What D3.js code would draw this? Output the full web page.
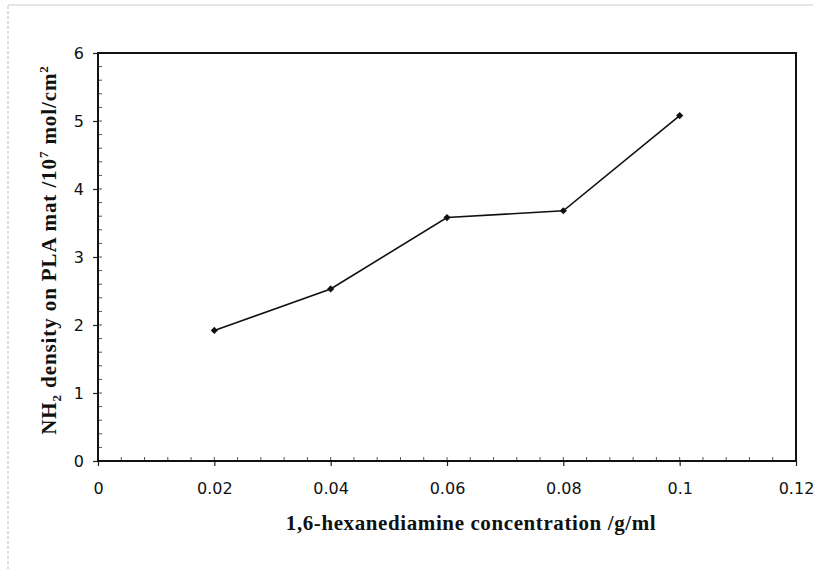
<!DOCTYPE html>
<html>
<head>
<meta charset="utf-8">
<script src="https://cdn.jsdelivr.net/npm/d3@7"></script>
<style>
  body { margin: 0; background: #fff; }
  svg { display: block; }
</style>
</head>
<body>
<div id="chart"></div>
<script>
// data
var concentrations = [0.02, 0.04, 0.06, 0.08, 0.1];
var densities = [1.92, 2.53, 3.58, 3.68, 5.08];
var xTicks = [0, 0.02, 0.04, 0.06, 0.08, 0.1, 0.12];
var yTicks = [0, 1, 2, 3, 4, 5, 6];

var width = 813, height = 569;
var plotL = 98, plotR = 796, plotT = 53, plotB = 461;

var svg = d3.select('#chart').append('svg')
    .attr('width', width)
    .attr('height', height);

// faint scan edges
svg.append('line')
    .attr('x1', 8).attr('x2', 8).attr('y1', 6).attr('y2', height)
    .attr('stroke', '#bbb').attr('stroke-width', 1).attr('stroke-dasharray', '3,2');
svg.append('line')
    .attr('x1', 8).attr('x2', width).attr('y1', 5).attr('y2', 5)
    .attr('stroke', '#ccc').attr('stroke-width', 1);

var x = d3.scaleLinear().domain([0, 0.12]).range([plotL, plotR]);
var y = d3.scaleLinear().domain([0, 6]).range([plotB, plotT]);

// minor ticks (inside)
var xMinor = d3.range(0, 0.1201, 0.004);
svg.append('g').selectAll('line')
    .data(xMinor)
    .enter().append('line')
    .attr('x1', function(d) { return x(d); })
    .attr('x2', function(d) { return x(d); })
    .attr('y1', plotB)
    .attr('y2', plotB - 4)
    .attr('stroke', '#555').attr('stroke-width', 1);

var yMinor = d3.range(0, 6.001, 0.2);
svg.append('g').selectAll('line')
    .data(yMinor)
    .enter().append('line')
    .attr('x1', plotL)
    .attr('x2', plotL + 4)
    .attr('y1', function(d) { return y(d); })
    .attr('y2', function(d) { return y(d); })
    .attr('stroke', '#555').attr('stroke-width', 1);

// axes
var xAxis = d3.axisBottom(x).tickValues(xTicks).tickSize(5).tickPadding(17)
    .tickFormat(function(d) { return String(+d.toFixed(2)); });
var yAxis = d3.axisLeft(y).tickValues(yTicks).tickSize(5).tickPadding(9)
    .tickFormat(d3.format('d'));

var gx = svg.append('g')
    .attr('transform', 'translate(0,' + plotB + ')')
    .call(xAxis);
var gy = svg.append('g')
    .attr('transform', 'translate(' + plotL + ',0)')
    .call(yAxis);

[gx, gy].forEach(function(g) {
    g.select('.domain').remove();
    g.selectAll('.tick line').attr('stroke', '#222').attr('stroke-width', 1.2);
    g.selectAll('.tick text')
        .attr('fill', '#111')
        .style('font-family', '"DejaVu Sans", Verdana, sans-serif')
        .style('font-size', '16px');
});

// frame
svg.append('rect')
    .attr('x', plotL).attr('y', plotT)
    .attr('width', plotR - plotL).attr('height', plotB - plotT)
    .attr('fill', 'none')
    .attr('stroke', '#111')
    .attr('stroke-width', 2);

// line and markers
var points = concentrations.map(function(c, i) { return {c: c, v: densities[i]}; });

var line = d3.line()
    .x(function(d) { return x(d.c); })
    .y(function(d) { return y(d.v); });

svg.append('path')
    .datum(points)
    .attr('d', line)
    .attr('fill', 'none')
    .attr('stroke', '#111')
    .attr('stroke-width', 1.6);

svg.append('g').selectAll('path')
    .data(points)
    .enter().append('path')
    .attr('d', d3.symbol().type(d3.symbolSquare).size(26))
    .attr('transform', function(d) { return 'translate(' + x(d.c) + ',' + y(d.v) + ') rotate(45)'; })
    .attr('fill', '#111');

// axis titles
svg.append('text')
    .attr('x', 471)
    .attr('y', 530)
    .attr('text-anchor', 'middle')
    .style('font-family', '"Liberation Serif", "DejaVu Serif", serif')
    .style('font-weight', 'bold')
    .style('font-size', '21px')
    .style('letter-spacing', '0.6px')
    .attr('fill', '#111')
    .text('1,6-hexanediamine concentration /g/ml');

var yTitle = svg.append('text')
    .attr('transform', 'translate(56,' + 250 + ') rotate(-90)')
    .attr('text-anchor', 'middle')
    .style('font-family', '"Liberation Serif", "DejaVu Serif", serif')
    .style('font-weight', 'bold')
    .style('font-size', '21px')
    .style('letter-spacing', '0.9px')
    .attr('fill', '#111');
yTitle.append('tspan').text('NH');
yTitle.append('tspan').attr('dy', 5).style('font-size', '13px').text('2');
yTitle.append('tspan').attr('dy', -5).text(' density on PLA mat /10');
yTitle.append('tspan').attr('dy', -8).style('font-size', '13px').text('7');
yTitle.append('tspan').attr('dy', 8).text(' mol/cm');
yTitle.append('tspan').attr('dy', -8).style('font-size', '13px').text('2');
</script>
</body>
</html>
